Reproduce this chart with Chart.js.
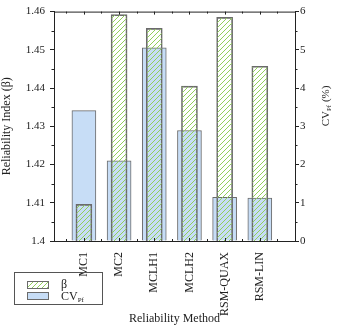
<!DOCTYPE html>
<html>
<head>
<meta charset="utf-8">
<script src="https://cdn.jsdelivr.net/npm/chart.js@4"></script>
<style>
  html, body { margin: 0; padding: 0; background: #fff; }
  #wrap { width: 337px; height: 329px; position: relative; }
</style>
</head>
<body>
<div id="wrap"><canvas id="chart" width="337" height="329"></canvas></div>
<script>
const methods = ["MC1", "MC2", "MCLH1", "MCLH2", "RSM-QUAX", "RSM-LIN"];
const betaValues = [1.4096, 1.4592, 1.4556, 1.4405, 1.4585, 1.4457];
const cvValues = [3.41, 2.10, 5.05, 2.89, 1.14, 1.12];
const betaTicks = [1.4, 1.41, 1.42, 1.43, 1.44, 1.45, 1.46];
const cvTicks = [0, 1, 2, 3, 4, 5, 6];

const FONT = "'Liberation Serif', 'Times New Roman', serif";
const blueFill = "#c7ddf6";
const edge = "#6b6b6b";

function makeHatch() {
    const c = document.createElement("canvas");
    c.width = 5;
    c.height = 5;
    const g = c.getContext("2d");
    g.strokeStyle = "#92cf5c";
    g.lineWidth = 1;
    g.beginPath();
    g.moveTo(0, 5); g.lineTo(5, 0);
    g.moveTo(-1, 1); g.lineTo(1, -1);
    g.moveTo(4, 6); g.lineTo(6, 4);
    g.stroke();
    return g.createPattern(c, "repeat");
}
const hatch = makeHatch();

// frame, minor ticks, x ticks, right title, legend
const extras = {
    id: "extras",
    afterDraw(chart) {
        const ctx = chart.ctx;
        const a = chart.chartArea;
        const sx = chart.scales.x, sy = chart.scales.y, sy1 = chart.scales.y1;
        ctx.save();
        ctx.strokeStyle = "#222";
        ctx.lineWidth = 1;
        ctx.beginPath();
        ctx.moveTo(a.left, a.top + 0.5); ctx.lineTo(a.right, a.top + 0.5);
        // minor ticks left / right
        for (let i = 0; i < betaTicks.length - 1; i++) {
            const y = Math.round(sy.getPixelForValue((betaTicks[i] + betaTicks[i + 1]) / 2)) + 0.5;
            ctx.moveTo(a.left - 2.5, y); ctx.lineTo(a.left, y);
        }
        for (let i = 0; i < cvTicks.length - 1; i++) {
            const y = Math.round(sy1.getPixelForValue((cvTicks[i] + cvTicks[i + 1]) / 2)) + 0.5;
            ctx.moveTo(a.right, y); ctx.lineTo(a.right + 2.5, y);
        }
        // x ticks at top and bottom, pointing inward
        for (let v = 0.5; v <= methods.length + 0.5; v += 0.5) {
            const x = Math.round(sx.getPixelForValue(v)) + 0.5;
            const len = Number.isInteger(v) ? 3 : 2;
            ctx.moveTo(x, a.top); ctx.lineTo(x, a.top + len);
            ctx.moveTo(x, a.bottom); ctx.lineTo(x, a.bottom - len);
        }
        ctx.stroke();

        // right axis title
        ctx.fillStyle = "#222";
        ctx.translate(326, 106);
        ctx.rotate(-Math.PI / 2);
        ctx.textBaseline = "middle";
        ctx.font = "11px " + FONT;
        const w1 = ctx.measureText("CV").width;
        ctx.font = "7px " + FONT;
        const w2 = ctx.measureText("Pf").width;
        ctx.font = "11px " + FONT;
        const w3 = ctx.measureText(" (%)").width;
        let x0 = -(w1 + w2 + w3) / 2;
        ctx.fillText("CV", x0, 0);
        ctx.font = "7px " + FONT;
        ctx.fillText("Pf", x0 + w1, 3);
        ctx.font = "11px " + FONT;
        ctx.fillText(" (%)", x0 + w1 + w2, 0);
        ctx.restore();

        // legend
        ctx.save();
        ctx.strokeStyle = "#555";
        ctx.lineWidth = 1;
        ctx.strokeRect(14.5, 272.5, 88, 32);
        ctx.fillStyle = hatch;
        ctx.fillRect(27, 281, 21, 7);
        ctx.strokeStyle = edge;
        ctx.strokeRect(27.5, 281.5, 21, 7);
        ctx.fillStyle = blueFill;
        ctx.fillRect(27, 292, 21, 7);
        ctx.strokeRect(27.5, 292.5, 21, 7);
        ctx.fillStyle = "#222";
        ctx.textBaseline = "middle";
        ctx.font = "12px " + FONT;
        ctx.fillText("β", 61, 285);
        ctx.fillText("CV", 61, 297);
        const cw = ctx.measureText("CV").width;
        ctx.font = "7px " + FONT;
        ctx.fillText("Pf", 61 + cw, 300);
        ctx.restore();
    }
};

new Chart(document.getElementById("chart"), {
    type: "bar",
    data: {
        datasets: [
            {
                label: "β",
                data: methods.map((m, i) => ({ x: i + 1, y: betaValues[i] })),
                yAxisID: "y",
                backgroundColor: hatch,
                borderColor: edge,
                borderWidth: 1,
                barThickness: 16,
                grouped: false
            },
            {
                label: "CV",
                data: methods.map((m, i) => ({ x: i + 1, y: cvValues[i] })),
                yAxisID: "y1",
                backgroundColor: blueFill,
                borderColor: edge,
                borderWidth: 1,
                barThickness: 24,
                grouped: false
            }
        ]
    },
    options: {
        responsive: false,
        animation: false,
        events: [],
        layout: { padding: { top: 6, left: 0, right: 0, bottom: 0 } },
        plugins: { legend: { display: false }, tooltip: { enabled: false } },
        scales: {
            x: {
                type: "linear",
                offset: false,
                min: 0.15,
                max: 7.0,
                afterBuildTicks: s => { s.ticks = methods.map((m, i) => ({ value: i + 1 })); },
                afterFit: s => { s.height = 88; },
                grid: { display: false },
                border: { color: "#222", width: 1 },
                ticks: {
                    callback: v => methods[v - 1],
                    minRotation: 90,
                    maxRotation: 90,
                    autoSkip: false,
                    padding: 3,
                    color: "#222",
                    font: { family: FONT, size: 12 }
                },
                title: {
                    display: true,
                    text: "Reliability Method",
                    color: "#222",
                    font: { family: FONT, size: 12 },
                    padding: { top: 0, bottom: 3 }
                }
            },
            y: {
                position: "left",
                min: 1.4,
                max: 1.46,
                afterBuildTicks: s => { s.ticks = betaTicks.map(v => ({ value: v })); },
                afterFit: s => { s.width = 54; },
                grid: { drawOnChartArea: false, tickLength: 4, color: "#222" },
                border: { color: "#222", width: 1 },
                ticks: {
                    callback: v => String(Number(v.toFixed(2))),
                    padding: 5,
                    color: "#222",
                    font: { family: FONT, size: 11 }
                },
                title: {
                    display: true,
                    text: "Reliability Index (β)",
                    color: "#222",
                    font: { family: FONT, size: 12 },
                    padding: { top: 0, bottom: 0 }
                }
            },
            y1: {
                position: "right",
                min: 0,
                max: 6,
                afterBuildTicks: s => { s.ticks = cvTicks.map(v => ({ value: v })); },
                afterFit: s => { s.width = 42; },
                grid: { drawOnChartArea: false, tickLength: 4, color: "#222" },
                border: { color: "#222", width: 1 },
                ticks: {
                    padding: 1,
                    color: "#222",
                    font: { family: FONT, size: 11 }
                }
            }
        }
    },
    plugins: [extras]
});
</script>
</body>
</html>
